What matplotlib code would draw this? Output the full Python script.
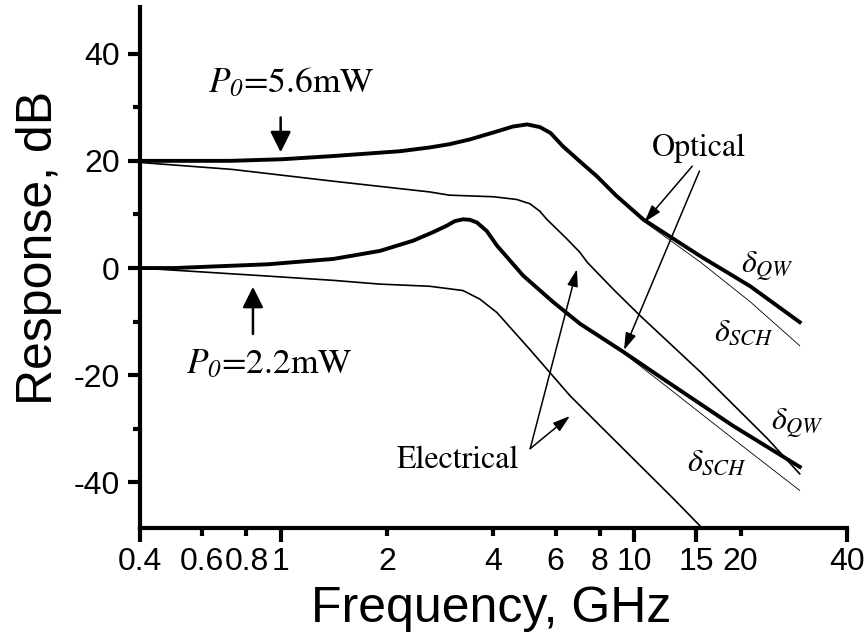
import matplotlib.pyplot as plt

plt.rcParams['font.family'] = 'Liberation Sans'
plt.rcParams['axes.unicode_minus'] = False
# italic math throughout, digits in subscripts included
plt.rcParams['mathtext.fontset'] = 'custom'
plt.rcParams['mathtext.rm'] = 'STIXGeneral:italic'
plt.rcParams['mathtext.it'] = 'STIXGeneral:italic'

# P0 = 5.6 mW : optical response (delta_QW), optical (delta_SCH), electrical
f_opt_hi = [0.4, 0.72, 1.01, 1.41, 2.18, 2.64, 3.0, 3.43, 4.0, 4.54, 4.98, 5.41,
            5.8, 6.29, 7.16, 7.85, 8.9, 10.6, 15.4, 21.3, 29.4]
r_opt_hi = [20.0, 20.0, 20.3, 20.9, 21.8, 22.5, 23.1, 24.0, 25.3, 26.4, 26.8, 26.3,
            25.2, 22.7, 19.4, 17.1, 13.5, 9.1, 2.2, -3.4, -10.1]
f_sch_hi = [8.9, 10.6, 15.4, 21.3, 29.4]
r_sch_hi = [13.5, 8.8, 1.1, -6.3, -14.5]
f_el_hi = [0.4, 0.73, 1.41, 2.64, 3.0, 4.0, 4.65, 5.07, 5.41, 5.66, 6.46, 7.03,
           7.36, 8.71, 10.4, 15.4, 23.8, 29.4]
r_el_hi = [19.7, 18.4, 16.2, 14.2, 13.6, 13.3, 12.8, 12.0, 10.6, 9.1, 5.4, 2.9,
           1.1, -3.9, -8.9, -19.4, -31.8, -38.4]

# P0 = 2.2 mW
f_opt_lo = [0.4, 0.5, 0.92, 1.41, 1.91, 2.37, 2.7, 2.95, 3.11, 3.28, 3.43, 3.59,
            3.83, 4.09, 4.85, 5.89, 7.03, 9.3, 12.4, 19.0, 29.4]
r_opt_lo = [0.0, 0.0, 0.7, 1.7, 3.2, 5.1, 6.7, 7.9, 8.75, 9.1, 9.0, 8.5,
            6.9, 4.2, -1.4, -6.3, -10.4, -15.6, -21.2, -29.4, -37.1]
f_sch_lo = [7.03, 9.3, 12.4, 19.0, 29.4]
r_sch_lo = [-10.4, -15.8, -22.2, -31.8, -41.5]
f_el_lo = [0.4, 0.92, 1.41, 1.91, 2.64, 3.28, 3.66, 4.09, 5.07, 6.58, 8.0, 12.9, 15.4]
r_el_lo = [0.0, -1.5, -2.3, -3.0, -3.4, -4.2, -5.8, -8.3, -15.2, -23.8, -29.4, -43.0, -48.2]

xmajor = [0.4, 1, 10, 15, 40]
xmajor_labels = ['0.4', '1', '10', '15', '40']
xminor = [0.6, 0.8, 2, 4, 6, 8, 20]
xminor_labels = ['0.6', '0.8', '2', '4', '6', '8', '20']
yticks = [-40, -20, 0, 20, 40]

fig = plt.figure(figsize=(8.65, 6.33), dpi=100)
ax = fig.add_axes([0.1618, 0.1659, 0.8174, 0.823])

ax.plot(f_opt_hi, r_opt_hi, color='k', lw=2.8)
ax.plot(f_sch_hi, r_sch_hi, color='k', lw=0.6)
ax.plot(f_el_hi, r_el_hi, color='k', lw=1.2)
ax.plot(f_opt_lo, r_opt_lo, color='k', lw=2.8)
ax.plot(f_sch_lo, r_sch_lo, color='k', lw=0.6)
ax.plot(f_el_lo, r_el_lo, color='k', lw=1.2)

ax.set_xscale('log')
ax.set_xlim(0.4, 40)
ax.set_ylim(-48.5, 48.7)

for s in ['top', 'right']:
    ax.spines[s].set_visible(False)
for s in ['left', 'bottom']:
    ax.spines[s].set_linewidth(3)

ax.set_xticks(xmajor)
ax.set_xticklabels(xmajor_labels)
ax.set_xticks(xminor, minor=True)
ax.set_xticklabels(xminor_labels, minor=True)
ax.set_yticks(yticks)
ax.set_yticks([-30, -10, 10, 30], minor=True)

ax.tick_params(axis='x', which='major', length=10, width=3, pad=4, labelsize=23)
ax.tick_params(axis='x', which='minor', length=6, width=3, pad=8, labelsize=23)
ax.tick_params(axis='y', which='major', length=8.5, width=3, pad=6, labelsize=23)
ax.tick_params(axis='y', which='minor', length=5, width=3)

ax.set_xlabel('Frequency, GHz', fontsize=36)
ax.xaxis.set_label_coords(0.4965, -0.111)
ax.set_ylabel('Response, dB', fontsize=36)
ax.yaxis.set_label_coords(-0.110, 0.538)

serif = dict(family='STIXGeneral', fontsize=23, color='k')
ax.text(1.07, 32.8, r'$P_0$=5.6mW', ha='center', va='baseline',
        family='STIXGeneral', fontsize=25.5)
ax.text(0.93, -19.7, r'$P_0$=2.2mW', ha='center', va='baseline',
        family='STIXGeneral', fontsize=25.5)
ax.text(15.2, 20.9, 'Optical', ha='center', va='baseline', **serif)
ax.text(3.17, -37.4, 'Electrical', ha='center', va='baseline', **serif)
ax.text(23.8, -0.7, r'$\delta_{QW}$', ha='center', va='baseline', **serif)
ax.text(20.4, -13.6, r'$\delta_{SCH}$', ha='center', va='baseline', **serif)
ax.text(28.9, -30.0, r'$\delta_{QW}$', ha='center', va='baseline', **serif)
ax.text(17.2, -37.8, r'$\delta_{SCH}$', ha='center', va='baseline', **serif)

# arrows marking the two pump powers
big = dict(arrowstyle='-|>,head_length=0.9,head_width=0.45', color='k', lw=1.8,
           mutation_scale=14, shrinkA=0, shrinkB=0)
ax.annotate('', xy=(1.0, 21.6), xytext=(1.0, 28.1), arrowprops=big)
ax.annotate('', xy=(0.835, -3.5), xytext=(0.835, -12.3), arrowprops=big)

# pointers from the Optical / Electrical labels
small = dict(arrowstyle='-|>,head_length=0.8,head_width=0.25', color='k', lw=1.1,
             mutation_scale=13, shrinkA=0, shrinkB=0)
ax.annotate('', xy=(10.7, 8.6), xytext=(14.6, 19.0), arrowprops=small)
ax.annotate('', xy=(9.36, -15.3), xytext=(15.3, 18.1), arrowprops=small)
ax.annotate('', xy=(6.89, -0.2), xytext=(5.08, -33.7), arrowprops=small)
ax.annotate('', xy=(6.58, -27.6), xytext=(5.08, -33.7), arrowprops=small)

fig.savefig('out.png', dpi=100)
